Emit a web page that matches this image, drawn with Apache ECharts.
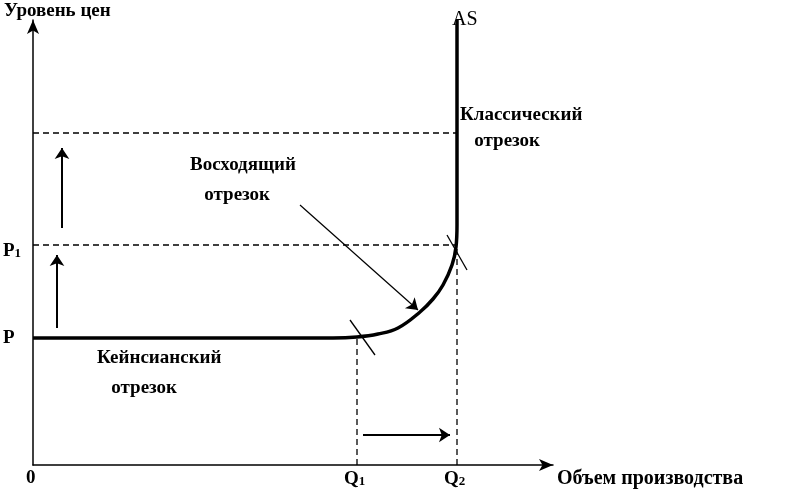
<!DOCTYPE html>
<html><head><meta charset="utf-8">
<script src="https://cdn.jsdelivr.net/npm/echarts@6/dist/echarts.min.js"></script>
<style>html,body{margin:0;background:#fff}#c{width:785px;height:494px}</style>
</head><body><div id="c"></div>
<script>
const priceLabels=['P','P1',''];
const priceLevels=[127,220,332];
const qtyLabels=['Q1','Q2'];
const quantities=[324,424];
const asCurve=[[0,127],[300,127],[324,128],[345,131],[365,137],[387,153],[400,166],[410,180],[419,200],[423,218],[424,240],[424,445]];
const F='"Liberation Serif", "DejaVu Serif", serif';
const chart=echarts.init(document.getElementById('c'));
const dash={color:'#000',width:1.3,type:[6,4]};
function seg(a,b,arrow,w){return {type:'lines',coordinateSystem:'cartesian2d',symbol:arrow?['none','arrow']:['none','none'],symbolSize:11,lineStyle:{color:'#000',width:w||1.5,opacity:1},data:[{coords:[a,b]}],silent:true,z:3};}
const series=[
 {type:'line',data:asCurve,showSymbol:false,smooth:0.4,lineStyle:{color:'#000',width:3.5},z:5},
 {type:'line',data:[[0,priceLevels[2]],[quantities[1],priceLevels[2]]],showSymbol:false,lineStyle:dash},
 {type:'line',data:[[0,priceLevels[1]],[quantities[1],priceLevels[1]]],showSymbol:false,lineStyle:dash},
 {type:'line',data:[[quantities[0],0],[quantities[0],priceLevels[0]]],showSymbol:false,lineStyle:dash},
 {type:'line',data:[[quantities[1],0],[quantities[1],priceLevels[1]]],showSymbol:false,lineStyle:dash},
 seg([29,237],[29,317],true,2),
 seg([24,137],[24,210],true,2),
 seg([330,30],[417,30],true,2),
 seg([267,260],[385,155],true,1.2),
 seg([317,145],[342,110],false,1.3),
 seg([414,230],[434,195],false,1.3)
];
chart.setOption({
 animation:false,
 grid:{left:33,top:20,width:520,height:445},
 xAxis:{type:'value',min:0,max:520,axisLine:{lineStyle:{color:'#000',width:1.5},symbol:['none','arrow'],symbolSize:[9,14]},axisTick:{show:false},axisLabel:{show:false},splitLine:{show:false}},
 yAxis:{type:'value',min:0,max:445,axisLine:{show:true,lineStyle:{color:'#000',width:1.5},symbol:['none','arrow'],symbolSize:[9,14]},axisTick:{show:false},axisLabel:{show:false},splitLine:{show:false}},
 series
});
const rich={s:{font:'bold 13px '+F,fill:'#000',verticalAlign:'bottom',padding:[6,0,0,0]}};
function sub(label){return label.length>1?label[0]+'{s|'+label.slice(1)+'}':label;}
const t=(x,y,text,font)=>({type:'text',x,y,style:{text,font:font||('bold 19px '+F),fill:'#000',textVerticalAlign:'middle',rich}});
const px=(x,y)=>chart.convertToPixel({gridIndex:0},[x,y]);
const g=[t(4,11,'Уровень цен')];
g.push(t(3,px(0,priceLevels[0])[1],sub(priceLabels[0])));
g.push(t(3,px(0,priceLevels[1])[1]+6,sub(priceLabels[1])));
g.push(t(26,478,'0'));
quantities.forEach((q,i)=>g.push(t(px(q,0)[0]-13,479,sub(qtyLabels[i]))));
g.push(t(557,479,'Объем производства','bold 20px '+F));
g.push(t(452,20,'AS','20px '+F));
g.push({type:'text',x:460,y:102,style:{text:'Классический\n   отрезок',font:'bold 19px '+F,fill:'#000',lineHeight:26}});
g.push({type:'text',x:190,y:150,style:{text:'Восходящий\n   отрезок',font:'bold 19px '+F,fill:'#000',lineHeight:30}});
g.push({type:'text',x:97,y:343,style:{text:'Кейнсианский\n   отрезок',font:'bold 19px '+F,fill:'#000',lineHeight:30}});
chart.setOption({graphic:g});
</script></body></html>
